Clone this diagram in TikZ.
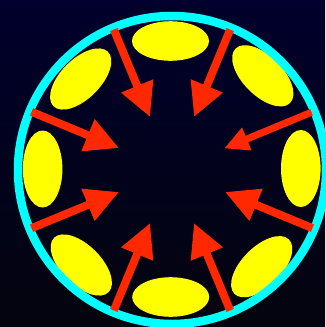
\documentclass[tikz,border=0pt]{standalone}
\definecolor{bgtop}{RGB}{0,0,44}
\definecolor{bgbot}{RGB}{4,4,14}
\definecolor{ringcyan}{RGB}{0,255,255}
\definecolor{blobyellow}{RGB}{255,255,0}
\definecolor{arrred}{RGB}{255,40,0}
\begin{document}
\begin{tikzpicture}[x=1pt,y=-1pt,
  ringline/.style={draw=ringcyan,line width=8.5pt},
  blob/.style={fill=blobyellow},
  arr/.style={fill=arrred}]
\useasboundingbox (0,0) rectangle (325,327);
\shade[top color=bgtop,bottom color=bgbot] (0,0) rectangle (325,327);
\coordinate (C) at (172,170);
\foreach \x/\y/\r in {170.5/41/0, 170.7/297/0, 42.6/169/90, 300.8/168.5/90, 80.7/79/45, 262.8/75.8/-45, 81.3/265/-45, 261.7/266.7/45}
  \fill[blob,rotate around={\r:(\x,\y)}] (\x,\y) ellipse [x radius=38.5,y radius=19.8];
\draw[ringline] (C) circle [radius=154];
\foreach \a in {67.5,112.5,157.5,202.5,247.5,292.5,337.5}
  \fill[arr,shift={(C)},rotate=\a] (58,0) -- (91,17.5) -- (91,4) -- (152,4) -- (152,-4) -- (91,-4) -- (91,-17.5) -- cycle;
\fill[arr,shift={(C)},rotate=22.5] (57,0) -- (81,12.5) -- (81,3.5) -- (151,3.5) -- (151,-3.5) -- (81,-3.5) -- (81,-12.5) -- cycle;
\end{tikzpicture}
\end{document}
